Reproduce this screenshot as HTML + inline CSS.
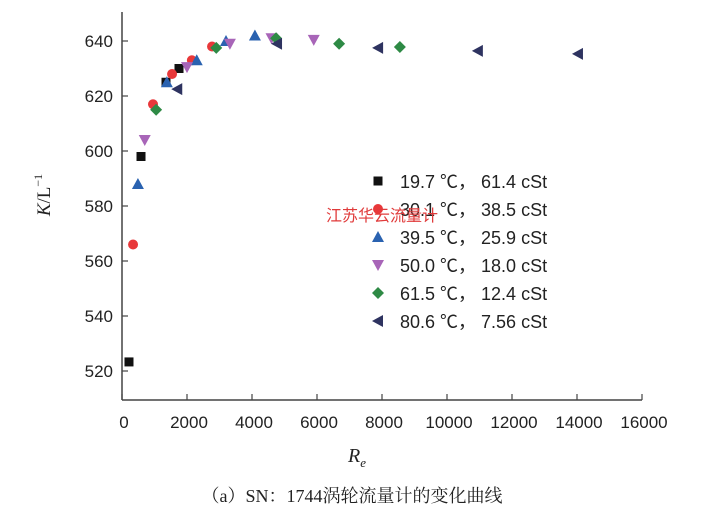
<!DOCTYPE html>
<html><head><meta charset="utf-8"><style>
body{margin:0;background:#fff;}
svg{display:block;font-family:"Liberation Serif","Noto Serif CJK SC",serif;}
.sans{font-family:"Liberation Sans","Noto Sans CJK SC",sans-serif;}
</style></head><body>
<svg id="chart" width="704" height="514" viewBox="0 0 704 514" xmlns="http://www.w3.org/2000/svg">
<g id="axes"></g><g id="marks"></g><g id="legend"></g>
<text transform="translate(50,195) rotate(-90)" text-anchor="middle" font-size="19" fill="#222"><tspan font-style="italic">K</tspan>/L<tspan font-size="12" dy="-8">−1</tspan></text>
<text x="348" y="462" font-size="20" font-style="italic" fill="#222">R<tspan font-size="13" dy="5">e</tspan></text>
<text x="352" y="502" text-anchor="middle" font-size="18" fill="#222">（a）SN：1744涡轮流量计的变化曲线</text>
<text x="326" y="221" font-size="16" fill="#e03a3a" font-family="Noto Sans CJK SC, sans-serif">江苏华云流量计</text>
</svg>
<script>
const xTicks=[0,2000,4000,6000,8000,10000,12000,14000,16000];
const yTicks=[520,540,560,580,600,620,640];
const seriesNames=["19.7 ℃，  61.4 cSt","30.1 ℃，  38.5 cSt","39.5 ℃，  25.9 cSt","50.0 ℃，  18.0 cSt","61.5 ℃，  12.4 cSt","80.6 ℃，  7.56 cSt"];
const reS1=[215,585,1354,1754], kS1=[523.3,598,625,630];
const reS2=[340,954,1540,2150,2770], kS2=[566,617,628,633,638];
const reS3=[490,1380,2300,3200,4090], kS3=[588,625,633,640,642];
const reS4=[700,2000,3320,4600,5900], kS4=[604,630.5,639,641,640.4];
const reS5=[1050,2900,4740,6680,8550], kS5=[615,637.5,641,639,637.8];
const reS6=[1700,4770,7880,10950,14030], kS6=[622.5,639,637.5,636.4,635.3];
const NS="http://www.w3.org/2000/svg";
const x=v=>122+v/2000*65, y=v=>41+(640-v)*2.75;
function mk(t,a,p){const e=document.createElementNS(NS,t);for(const k in a)e.setAttribute(k,a[k]);p.appendChild(e);return e;}
const ax=document.getElementById('axes');
const xl=mk('line',{x1:122,y1:400,x2:642,y2:400,stroke:'#444','stroke-width':1.5},ax);


const yl=mk('line',{x1:122,y1:12,x2:122,y2:400,stroke:'#444','stroke-width':1.5},ax);


xTicks.forEach(v=>{mk('line',{x1:x(v),y1:400,x2:x(v),y2:394,stroke:'#444','stroke-width':1.2},ax);
const t=mk('text',{x:x(v)+2,y:428,'text-anchor':'middle','font-size':17,fill:'#222',class:'sans'},ax);t.textContent=v;

});
yTicks.forEach(v=>{mk('line',{x1:122,y1:y(v),x2:128,y2:y(v),stroke:'#444','stroke-width':1.2},ax);
const t=mk('text',{x:113,y:y(v)+6,'text-anchor':'end','font-size':17,fill:'#222',class:'sans'},ax);t.textContent=v;

});
const cols=['#111','#e8383a','#2a62b0','#a865b8','#2e8a45','#2e3360'];
function marker(i,cx,cy,p){const c=cols[i];let e;
if(i==0)e=mk('rect',{x:cx-4.5,y:cy-4.5,width:9,height:9,fill:c},p);
else if(i==1)e=mk('circle',{cx,cy,r:5,fill:c},p);
else if(i==2)e=mk('polygon',{points:`${cx},${cy-6} ${cx-6},${cy+5} ${cx+6},${cy+5}`,fill:c},p);
else if(i==3)e=mk('polygon',{points:`${cx},${cy+6} ${cx-6},${cy-5} ${cx+6},${cy-5}`,fill:c},p);
else if(i==4)e=mk('polygon',{points:`${cx},${cy-6} ${cx+6},${cy} ${cx},${cy+6} ${cx-6},${cy}`,fill:c},p);
else e=mk('polygon',{points:`${cx-6},${cy} ${cx+5},${cy-6} ${cx+5},${cy+6}`,fill:c},p);
return e;}
const M=document.getElementById('marks');
[[reS1,kS1],[reS2,kS2],[reS3,kS3],[reS4,kS4],[reS5,kS5],[reS6,kS6]].forEach((s,i)=>{
s[0].forEach((r,j)=>{const e=marker(i,x(r),y(s[1][j]),M);

});});
const L=document.getElementById('legend');
seriesNames.forEach((n,i)=>{const yy=181+i*28;
const e=marker(i,378,yy,L);


const t=mk('text',{x:400,y:yy+7,'font-size':18,fill:'#222',class:'sans','xml:space':'preserve'},L);t.textContent=n;

});
</script>
</body></html>
